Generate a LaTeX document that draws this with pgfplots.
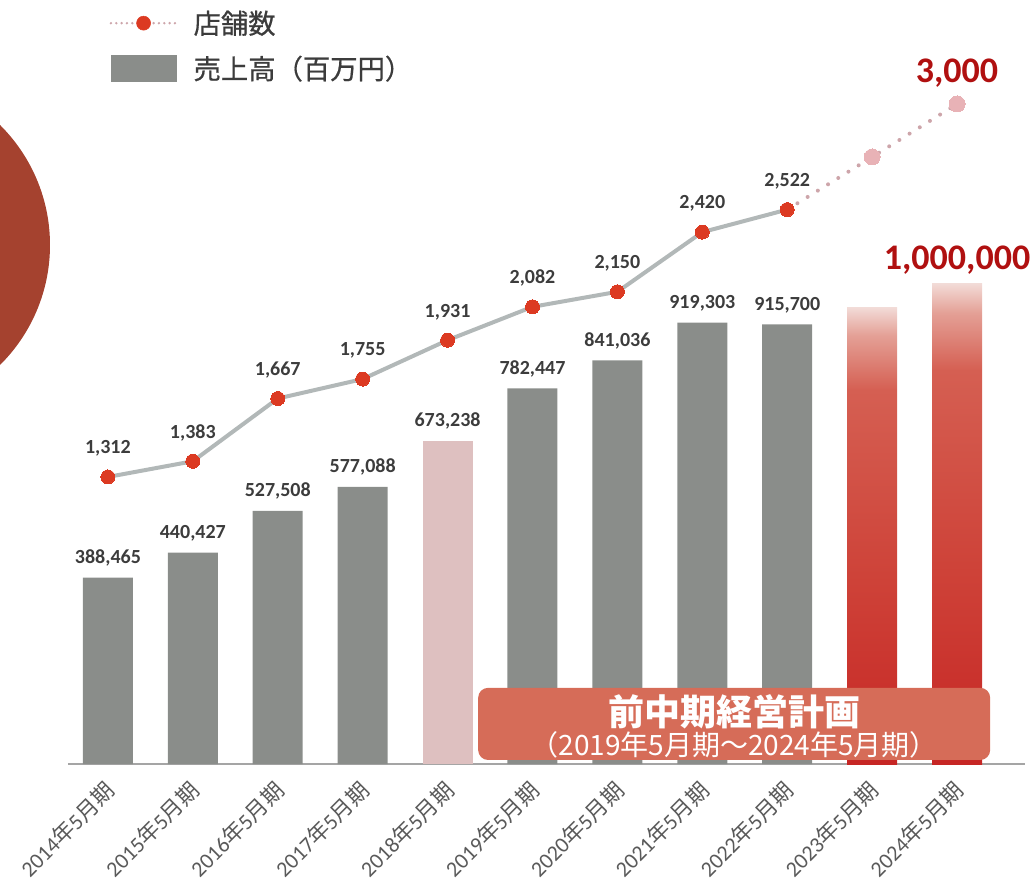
\documentclass[border=0pt]{standalone}
\usepackage{pgfplots}
\pgfplotsset{compat=1.18}
\usepackage{fontspec}
\setmainfont{Carlito}
\newfontfamily\cjk{Noto Sans CJK JP}
\newfontfamily\cjkm[FakeBold=0.6]{Noto Sans CJK JP}

\definecolor{bargray}{RGB}{138,141,138}
\definecolor{barpink}{RGB}{222,192,192}
\definecolor{planred}{RGB}{198,38,36}
\definecolor{planmid}{RGB}{206,66,56}
\definecolor{planlight}{RGB}{213,95,82}
\definecolor{planfadec}{RGB}{228,160,150}
\definecolor{plantop}{RGB}{242,218,214}
\definecolor{bannerred}{RGB}{214,108,88}
\definecolor{linegray}{RGB}{178,184,184}
\definecolor{basegray}{RGB}{165,165,165}
\definecolor{markred}{RGB}{220,58,34}
\definecolor{fadepink}{RGB}{232,178,182}
\definecolor{dotpink}{RGB}{205,165,170}
\definecolor{labelgray}{RGB}{60,60,60}
\definecolor{bigred}{RGB}{176,16,16}
\definecolor{tickgray}{RGB}{90,90,90}
\definecolor{circlered}{RGB}{165,66,47}

% plan bars: red at the foot, fading out at the top
\pgfdeclareverticalshading{planfade}{100bp}{color(0bp)=(planred); color(25bp)=(planred);
  color(45bp)=(planmid); color(66bp)=(planlight); color(72bp)=(planfadec);
  color(75bp)=(plantop); color(100bp)=(plantop)}

\newcommand{\yl}[1]{#1{\cjk 年}5{\cjk 月期}}

\tikzset{
  vlabel/.style={font=\bfseries\fontsize{15}{18}\selectfont, text=labelgray},
  biglabel/.style={font=\bfseries\fontsize{27}{30}\selectfont, text=bigred},
}
\pgfplotsset{
  base/.style={
    scale only axis, width=717.75pt, height=528pt,
    at={(0pt,0pt)}, anchor=south west,
    xmin=-0.47, xmax=10.8, clip=false,
    /pgf/number format/fixed, /pgf/number format/precision=0,
    /pgf/number format/1000 sep={,}, /pgf/number format/assume math mode=true,
  },
}

\begin{document}
\begin{tikzpicture}
\fill[circlered] (-140.25pt,389.25pt) circle (126.75pt);

\begin{axis}[base,
  ymin=0, ymax=1466667,
  axis y line=none, axis x line=bottom,
  x axis line style={-, draw=basegray, line width=1.5pt},
  xtick={0,...,10}, major tick length=0pt, ytick=\empty,
  xticklabels={\yl{2014},\yl{2015},\yl{2016},\yl{2017},\yl{2018},\yl{2019},
    \yl{2020},\yl{2021},\yl{2022},\yl{2023},\yl{2024}},
  xticklabel style={rotate=45, anchor=east, text=tickgray,
    font=\fontsize{16.5}{18}\selectfont, xshift=-7pt, yshift=-13pt},
  bar width=37.5pt,
  legend style={at={(axis description cs:0.039,1.078)}, anchor=north west,
    draw=none, fill=none, font=\cjkm\fontsize{20.5}{23}\selectfont, text=labelgray,
    row sep=11pt, legend cell align=left},
]
\addlegendimage{legend image code/.code={
  \draw[dotpink, line width=2pt, line cap=round, dash pattern=on 0pt off 4pt] (0pt,0pt) -- (49pt,0pt);
  \fill[markred] (24.5pt,0pt) circle (5.25pt);}}
\addlegendentry{\hspace{10pt}店舗数}
\addlegendimage{legend image code/.code={\fill[bargray] (0pt,-10pt) rectangle (49pt,10pt);}}
\addlegendentry{\hspace{10pt}売上高（百万円）}

\addplot[ybar, bar shift=0pt, fill=bargray, draw=none, forget plot,
  nodes near coords, every node near coord/.append style={vlabel, yshift=5pt}]
  coordinates {(0,388465) (1,440427) (2,527508) (3,577088)
               (5,782447) (6,841036) (7,919303) (8,915700)};
\addplot[ybar, bar shift=0pt, fill=barpink, draw=none, forget plot,
  nodes near coords, every node near coord/.append style={vlabel, yshift=5pt}]
  coordinates {(4,673238)};
\addplot[ybar, bar shift=0pt, shading=planfade, draw=none, forget plot]
  coordinates {(9,950000)};
\addplot[ybar, bar shift=0pt, shading=planfade, draw=none, forget plot,
  nodes near coords, every node near coord/.append style={biglabel, yshift=4pt}]
  coordinates {(10,1000000)};

\fill[bannerred, rounded corners=7.5pt] (axis cs:4.36,8350) rectangle (axis cs:10.39,158700);
\node[text=white, font=\cjk\bfseries\fontsize{27}{30}\selectfont] at (axis cs:7.375,108000) {前中期経営計画};
\node[text=white, font=\cjk\fontsize{21}{24}\selectfont] at (axis cs:7.375,39700) {（2019年5月期〜2024年5月期）};
\end{axis}

\begin{axis}[base, ymin=13, ymax=3199, hide axis]
\addplot[dotpink, line width=3pt, line cap=round, dash pattern=on 0pt off 9pt, no marks]
  coordinates {(8,2522) (9,2760) (10,3000)};
\addplot[only marks, mark=*, mark size=6pt,
  mark options={fill=fadepink, draw=fadepink, line width=0pt}]
  coordinates {(9,2760)};
\addplot[only marks, mark=*, mark size=6pt,
  mark options={fill=fadepink, draw=fadepink, line width=0pt},
  nodes near coords, every node near coord/.append style={biglabel, yshift=9pt}]
  coordinates {(10,3000)};
\addplot[linegray, line width=3pt, mark=*, mark size=5.25pt,
  mark options={fill=markred, draw=markred, line width=0pt},
  nodes near coords, every node near coord/.append style={vlabel, yshift=12pt}]
  coordinates {(0,1312) (1,1383) (2,1667) (3,1755) (4,1931)
               (5,2082) (6,2150) (7,2420) (8,2522)};
\end{axis}

\pgfresetboundingbox
\path[use as bounding box] (-51pt,-93.75pt) rectangle (725.25pt,573pt);
\end{tikzpicture}
\end{document}
